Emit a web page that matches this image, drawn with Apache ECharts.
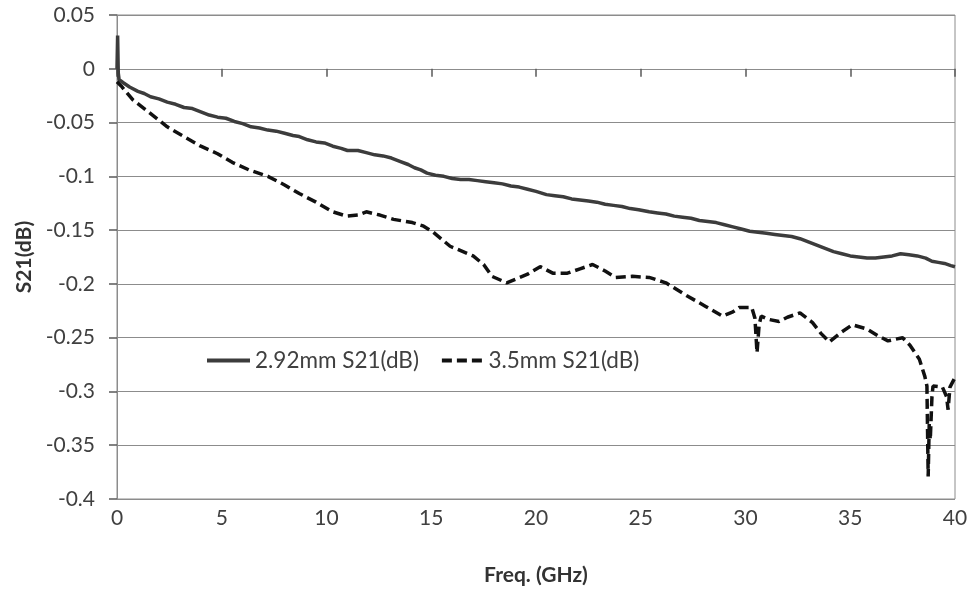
<!DOCTYPE html>
<html>
<head>
<meta charset="utf-8">
<script src="https://cdn.jsdelivr.net/npm/echarts@6/dist/echarts.min.js"></script>
<style>
html,body{margin:0;padding:0;background:#fff;}
#chart{width:972px;height:597px;}
</style>
</head>
<body>
<div id="chart"></div>
<script>
// Frequency (GHz) and S21 (dB)
var freq292 = [0, 0.03, 0.06, 0.1, 0.3, 0.6, 1.0, 1.3, 1.6, 2.0, 2.4, 2.8, 3.2, 3.6, 4.0, 4.4, 4.8, 5.2, 5.6, 6.0, 6.4, 6.8, 7.2, 7.6, 8.0, 8.4, 8.7, 9.1, 9.5, 9.9, 10.3, 10.7, 11.0, 11.5, 11.9, 12.3, 12.7, 13.1, 13.5, 13.9, 14.2, 14.5, 14.8, 15.2, 15.6, 16.0, 16.4, 16.8, 17.2, 17.6, 18.0, 18.4, 18.8, 19.2, 19.6, 20.0, 20.5, 20.9, 21.3, 21.7, 22.1, 22.5, 22.9, 23.3, 23.7, 24.1, 24.5, 24.9, 25.4, 25.8, 26.2, 26.6, 27.0, 27.4, 27.8, 28.2, 28.6, 29.0, 29.4, 29.8, 30.2, 30.6, 31.0, 31.4, 31.8, 32.2, 32.6, 33.0, 33.4, 33.8, 34.2, 34.6, 35.0, 35.4, 35.8, 36.2, 36.6, 37.0, 37.4, 37.8, 38.2, 38.6, 38.9, 39.2, 39.5, 39.8, 40.0];
var s21_292 = [0.0, 0.031, -0.004, -0.010, -0.013, -0.017, -0.021, -0.023, -0.026, -0.028, -0.031, -0.033, -0.036, -0.037, -0.040, -0.043, -0.045, -0.046, -0.049, -0.051, -0.054, -0.055, -0.057, -0.058, -0.060, -0.062, -0.063, -0.066, -0.068, -0.069, -0.072, -0.074, -0.076, -0.076, -0.078, -0.080, -0.081, -0.083, -0.086, -0.089, -0.092, -0.094, -0.097, -0.099, -0.100, -0.102, -0.103, -0.103, -0.104, -0.105, -0.106, -0.107, -0.109, -0.110, -0.112, -0.114, -0.117, -0.118, -0.119, -0.121, -0.122, -0.123, -0.124, -0.126, -0.127, -0.128, -0.130, -0.131, -0.133, -0.134, -0.135, -0.137, -0.138, -0.139, -0.141, -0.142, -0.143, -0.145, -0.147, -0.149, -0.151, -0.152, -0.153, -0.154, -0.155, -0.156, -0.158, -0.161, -0.164, -0.167, -0.170, -0.172, -0.174, -0.175, -0.176, -0.176, -0.175, -0.174, -0.172, -0.173, -0.174, -0.176, -0.179, -0.180, -0.181, -0.183, -0.184];

var freq35 = [0, 0.2, 0.76, 1.5, 2.4, 3.2, 4.0, 4.8, 5.5, 6.3, 7.2, 8.0, 8.7, 9.5, 10.3, 10.96, 11.5, 11.9, 12.55, 13.2, 14.1, 14.6, 15.1, 15.9, 17.0, 17.5, 17.9, 18.6, 19.6, 20.2, 20.8, 21.5, 22.1, 22.7, 23.3, 23.8, 24.6, 25.4, 26.2, 27.2, 28.1, 28.9, 29.4, 29.7, 30.3, 30.45, 30.55, 30.65, 30.75, 31.1, 31.6, 32.0, 32.6, 33.2, 33.6, 34.0, 34.5, 35.1, 35.8, 36.3, 36.8, 37.5, 37.85, 38.3, 38.56, 38.66, 38.72, 38.77, 38.82, 38.9, 38.95, 39.4, 39.6, 39.67, 39.76, 40.0];
var s21_35 = [-0.012, -0.016, -0.029, -0.040, -0.054, -0.063, -0.072, -0.079, -0.087, -0.094, -0.100, -0.108, -0.116, -0.124, -0.133, -0.137, -0.136, -0.133, -0.136, -0.140, -0.143, -0.146, -0.152, -0.165, -0.174, -0.182, -0.193, -0.199, -0.191, -0.184, -0.190, -0.190, -0.186, -0.182, -0.188, -0.194, -0.193, -0.194, -0.199, -0.211, -0.221, -0.230, -0.226, -0.222, -0.222, -0.232, -0.264, -0.238, -0.230, -0.233, -0.235, -0.231, -0.227, -0.236, -0.246, -0.254, -0.246, -0.238, -0.242, -0.248, -0.253, -0.250, -0.257, -0.270, -0.286, -0.295, -0.379, -0.330, -0.345, -0.305, -0.295, -0.296, -0.305, -0.317, -0.296, -0.287];

var seriesNames = ['2.92mm S21(dB)', '3.5mm S21(dB)'];
var xTicks = {min: 0, max: 40, interval: 5};
var yTicks = {min: -0.4, max: 0.05, interval: 0.05};

function pairs(xs, ys) { return xs.map(function (x, i) { return [x, ys[i]]; }); }

var FONT = 'Lato';
var GRID = {left: 117, right: 17, top: 15, bottom: 98};
var plotH = 597 - GRID.top - GRID.bottom;
// distance from the top of the plot to the value 0, where the reference's horizontal axis crosses
var zeroOffset = plotH * (yTicks.max - 0) / (yTicks.max - yTicks.min);

var chart = echarts.init(document.getElementById('chart'), null, {renderer: 'canvas'});
chart.setOption({
  animation: false,
  backgroundColor: '#ffffff',
  grid: {left: GRID.left, right: GRID.right, top: GRID.top, bottom: GRID.bottom, show: true, borderColor: '#8c8c8c', borderWidth: 1},
  legend: {
    left: 202, top: 344,
    itemWidth: 43, itemHeight: 4, itemGap: 23,
    textStyle: {fontFamily: FONT, fontSize: 22.5, color: '#404040'},
    data: [
      {name: seriesNames[0], icon: 'path://M0,0h43v4h-43z', itemStyle: {color: '#3c3c3c'}},
      {name: seriesNames[1], icon: 'path://M0,0h10v4h-10z M15,0h10v4h-10z M30,0h10v4h-10z', itemStyle: {color: '#111111'}}
    ]
  },
  xAxis: [{
    type: 'value', min: xTicks.min, max: xTicks.max, interval: xTicks.interval,
    position: 'bottom',
    axisLine: {show: false, onZero: false},
    axisTick: {show: false},
    axisLabel: {show: true, margin: 9, fontFamily: FONT, fontSize: 21, color: '#404040'},
    splitLine: {show: false},
    name: 'Freq. (GHz)', nameLocation: 'middle', nameGap: 66,
    nameTextStyle: {fontFamily: FONT, fontSize: 21, fontWeight: 'bold', color: '#333'}
  }, {
    type: 'value', min: xTicks.min, max: xTicks.max, interval: xTicks.interval,
    position: 'top', offset: -zeroOffset,
    axisLine: {show: true, onZero: false, lineStyle: {color: '#8c8c8c', width: 1}},
    axisTick: {show: true, inside: true, length: 8, lineStyle: {color: '#5a5a5a', width: 1.5}},
    axisLabel: {show: true, inside: true, margin: 12, fontSize: 10, color: 'rgba(255,255,255,0)'},
    splitLine: {show: false}
  }],
  yAxis: {
    type: 'value', min: yTicks.min, max: yTicks.max, interval: yTicks.interval,
    axisLine: {show: true, onZero: false, lineStyle: {color: '#8c8c8c', width: 1}},
    axisTick: {show: true, length: 8, inside: false, lineStyle: {color: '#5a5a5a', width: 1.5}},
    axisLabel: {show: true, margin: 22, fontFamily: FONT, fontSize: 21, color: '#404040',
      formatter: function (v) { return String(parseFloat(v.toFixed(2))); }},
    splitLine: {show: true, lineStyle: {color: '#8c8c8c', width: 1}},
    name: 'S21(dB)', nameLocation: 'middle', nameGap: 78,
    nameTextStyle: {fontFamily: FONT, fontSize: 21, fontWeight: 'bold', color: '#333'}
  },
  series: [{
    name: seriesNames[0], type: 'line', xAxisIndex: 0,
    data: pairs(freq292, s21_292),
    symbol: 'none', smooth: false, z: 3,
    lineStyle: {color: '#3c3c3c', width: 3.5, type: 'solid'},
    itemStyle: {color: '#3c3c3c'}
  }, {
    name: seriesNames[1], type: 'line', xAxisIndex: 0,
    data: pairs(freq35, s21_35),
    symbol: 'none', smooth: false, z: 3,
    lineStyle: {color: '#111111', width: 3.5, type: [10, 5]},
    itemStyle: {color: '#111111'}
  }]
});
</script>
</body>
</html>
